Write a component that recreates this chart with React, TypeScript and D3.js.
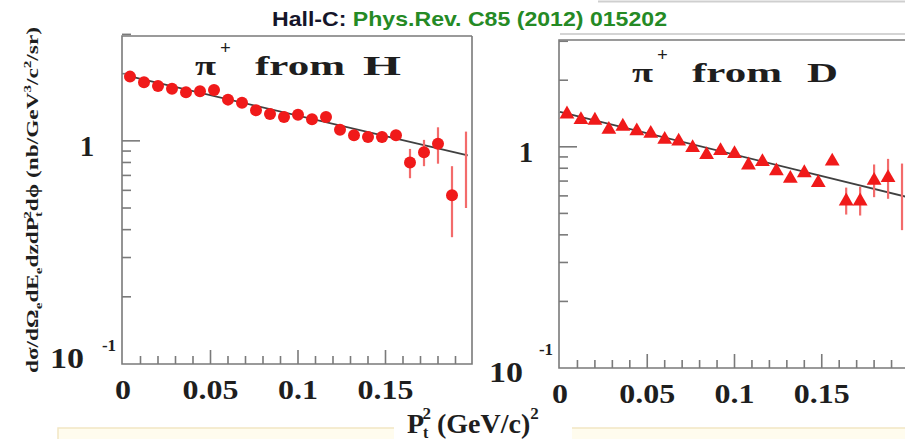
import React from "react";
import * as d3 from "d3";

// P_t^2 bin centres (GeV/c)^2
const binsH = [0.004, 0.012, 0.020, 0.028, 0.036, 0.044, 0.052, 0.060, 0.068, 0.076, 0.084, 0.092, 0.100, 0.108, 0.116, 0.124, 0.132, 0.140, 0.148, 0.156, 0.164, 0.172, 0.180, 0.188];
const sigmaH = [1.94, 1.83, 1.76, 1.71, 1.65, 1.67, 1.69, 1.53, 1.48, 1.37, 1.32, 1.28, 1.31, 1.25, 1.28, 1.12, 1.06, 1.04, 1.04, 1.06, 0.80, 0.89, 0.97, 0.57];
const errH = [0.02, 0.02, 0.02, 0.02, 0.02, 0.02, 0.02, 0.03, 0.03, 0.03, 0.03, 0.03, 0.03, 0.03, 0.04, 0.04, 0.04, 0.05, 0.06, 0.06, 0.12, 0.12, 0.18, 0.2];
const tailH = { x: 0.196, lo: 0.5, hi: 1.1 };
const fitH = { x: [0.001, 0.197], y: [1.97, 0.86] };

const binsD = [0.004, 0.012, 0.020, 0.028, 0.036, 0.044, 0.052, 0.060, 0.068, 0.076, 0.084, 0.092, 0.100, 0.108, 0.116, 0.124, 0.132, 0.140, 0.148, 0.156, 0.164, 0.172, 0.180, 0.188];
const sigmaD = [1.42, 1.34, 1.33, 1.21, 1.25, 1.19, 1.16, 1.09, 1.07, 1.0, 0.93, 0.97, 0.94, 0.835, 0.865, 0.785, 0.727, 0.77, 0.695, 0.87, 0.574, 0.574, 0.712, 0.732];
const errD = [0.02, 0.02, 0.02, 0.02, 0.02, 0.02, 0.02, 0.02, 0.02, 0.02, 0.02, 0.02, 0.02, 0.03, 0.03, 0.03, 0.03, 0.03, 0.03, 0.02, 0.08, 0.085, 0.12, 0.15];
const tailD = { x: 0.196, lo: 0.42, hi: 0.84 };
const fitD = { x: [0.0, 0.2], y: [1.44, 0.59] };

const xTickLabels = ["0", "0.05", "0.1", "0.15"];
const xTickVals = [0, 0.05, 0.1, 0.15];
const xTickWidths = [16, 56, 40, 56];
const xMinor = d3.range(1, 20).map((i) => i / 100);
const yMinor = [0.2, 0.3, 0.4, 0.5, 0.6, 0.7, 0.8, 0.9, 2, 3];

const SERIF = "'Liberation Serif', 'DejaVu Serif', serif";
const RED = "#f01a1a";
const BAR = "#f36b6b";
const FRAME = "#7a7a7a";
const INK = "#1e1e1e";

function Panel({ box, yTop, xs, ys, errs, tail, fit, marker, target, labelDx, tenDy }) {
  const x = d3.scaleLinear().domain([0, 0.2]).range([box.x0 + 1, box.x1 + 1]);
  const y = d3.scaleLog().domain([0.1, yTop]).range([box.y1, box.y0]);
  const line = d3.line().x((d) => x(d[0])).y((d) => y(d[1]));
  const fitPts = fit.x.map((v, i) => [v, fit.y[i]]);
  const tri = d3.symbol().type(d3.symbolTriangle).size(95)();
  const bold = { fontFamily: SERIF, fontWeight: "bold", fill: INK };

  return (
    <g>
      {/* frame */}
      <path d={`M${box.x1},${box.y0}H${box.x0}V${box.y1}H${box.x1}V${box.y0}`} fill="none" stroke={FRAME} strokeWidth={1.6} />
      {/* y ticks */}
      <line x1={box.x0} x2={box.x0 + 18} y1={y(1)} y2={y(1)} stroke={FRAME} strokeWidth={1.6} />
      {yMinor.map((v) => (
        <line key={v} x1={box.x0} x2={box.x0 + 9} y1={y(v)} y2={y(v)} stroke={FRAME} strokeWidth={1.6} />
      ))}
      {/* x ticks */}
      {xMinor.map((v, i) => {
        const big = (i + 1) % 5 === 0;
        return <line key={v} x1={x(v)} x2={x(v)} y1={box.y1} y2={box.y1 - (big ? 14 : 8)} stroke={FRAME} strokeWidth={1.6} />;
      })}
      {xTickVals.map((v, i) => (
        <text key={v} {...bold} x={x(v) - xTickWidths[i] / 2} y={box.y1 + 35} fontSize={28}
          textLength={xTickWidths[i]} lengthAdjust="spacingAndGlyphs">
          {xTickLabels[i]}
        </text>
      ))}
      <text {...bold} x={box.x0 - 35 + labelDx} y={y(1) + 15} textAnchor="middle" fontSize={29}>1</text>
      <text {...bold} x={box.x0 - 72 + labelDx} y={box.y1 + 4 + tenDy} fontSize={29} textLength={34} lengthAdjust="spacingAndGlyphs">10</text>
      <text {...bold} x={box.x0 - 13} y={box.y1 - 13} textAnchor="middle" fontSize={17}>-1</text>
      {/* fit */}
      <path d={line(fitPts)} fill="none" stroke="#1e1e1e" strokeWidth={1.8} opacity={0.85} />
      {/* tail bar (point whose marker is outside the frame) */}
      <line x1={x(tail.x)} x2={x(tail.x)} y1={y(tail.lo)} y2={y(tail.hi)} stroke={BAR} strokeWidth={2.2} />
      {/* data */}
      {xs.map((v, i) => (
        <g key={i}>
          <line x1={x(v)} x2={x(v)} y1={y(ys[i] - errs[i])} y2={y(ys[i] + errs[i])} stroke={BAR} strokeWidth={2.2} />
          {marker === "circle" ? (
            <circle cx={x(v)} cy={y(ys[i])} r={6} fill={RED} />
          ) : (
            <path d={tri} transform={`translate(${x(v)},${y(ys[i]) + 1})`} fill={RED} />
          )}
        </g>
      ))}
      {/* panel title */}
      <text {...bold} x={target.x} y={target.y} fontSize={28} textLength={21} lengthAdjust="spacingAndGlyphs">π</text>
      <text {...bold} x={target.x + 25} y={target.y - 21} fontSize={19}>+</text>
      <text {...bold} x={target.x + 60} y={target.y} fontSize={28} textLength={90} lengthAdjust="spacingAndGlyphs">from</text>
      <text {...bold} x={target.x + target.dx} y={target.y} fontSize={28} textLength={target.w} lengthAdjust="spacingAndGlyphs">{target.label}</text>
    </g>
  );
}

export default function App() {
  return (
    <svg width={905} height={439} style={{ display: "block", position: "absolute", left: 0, top: 0, background: "#fff" }}>
      {/* slide decorations */}
      <line x1={598} x2={905} y1={1.5} y2={1.5} stroke="#cfcfcf" strokeWidth={2} />
      <line x1={560} x2={905} y1={34} y2={34} stroke="#d4d4d4" strokeWidth={2} />
      <rect x={58} y={428} width={860} height={20} fill="#fffcee" stroke="#f2e6c4" strokeWidth={1.5} />
      <rect x={394} y={405} width={178} height={34} fill="#fff" />

      {/* header */}
      <text x={272} y={26} fontFamily="'Liberation Sans', Arial, sans-serif" fontWeight="bold" fontSize={21}
        textLength={395} lengthAdjust="spacingAndGlyphs">
        <tspan fill="#15152a">Hall-C: </tspan>
        <tspan fill="#258a25">Phys.Rev. C85 (2012) 015202</tspan>
      </text>

      <Panel
        box={{ x0: 122, x1: 472, y0: 36, y1: 364 }}
        yTop={2.95}
        xs={binsH}
        ys={sigmaH}
        errs={errH}
        tail={tailH}
        fit={fitH}
        marker="circle"
        target={{ x: 195, y: 75, label: "H", dx: 168, w: 38 }}
        labelDx={0}
        tenDy={0}
      />
      <Panel
        box={{ x0: 559, x1: 908, y0: 40, y1: 368 }}
        yTop={3.04}
        xs={binsD}
        ys={sigmaD}
        errs={errD}
        tail={tailD}
        fit={fitD}
        marker="triangle"
        target={{ x: 632, y: 82, label: "D", dx: 175, w: 31 }}
        labelDx={2}
        tenDy={10}
      />

      {/* x title */}
      <text x={407} y={433} fontFamily={SERIF} fontWeight="bold" fontSize={28} fill={INK}>
        P<tspan dy={5} fontSize={16} dx={-1}>t</tspan>
        <tspan dy={-19} dx={-6} fontSize={17}>2</tspan>
        <tspan dy={14} dx={6}>(GeV/c)</tspan>
        <tspan dy={-14} fontSize={17}>2</tspan>
      </text>

      {/* y title */}
      <text transform="translate(38,373) rotate(-90)" fontFamily={SERIF} fontWeight="bold" fontSize={17} fill={INK}
        textLength={346} lengthAdjust="spacingAndGlyphs">
        dσ/dΩ<tspan dy={4} fontSize={11}>e</tspan>
        <tspan dy={-4}>dE</tspan>
        <tspan dy={4} fontSize={11}>e</tspan>
        <tspan dy={-4}>dzdP</tspan>
        <tspan dy={4} fontSize={11}>t</tspan>
        <tspan dy={-11} dx={-5} fontSize={11}>2</tspan>
        <tspan dy={7}>dϕ  (nb/GeV</tspan>
        <tspan dy={-7} fontSize={11}>3</tspan>
        <tspan dy={7}>/c</tspan>
        <tspan dy={-7} fontSize={11}>2</tspan>
        <tspan dy={7}>/sr)</tspan>
      </text>
    </svg>
  );
}
